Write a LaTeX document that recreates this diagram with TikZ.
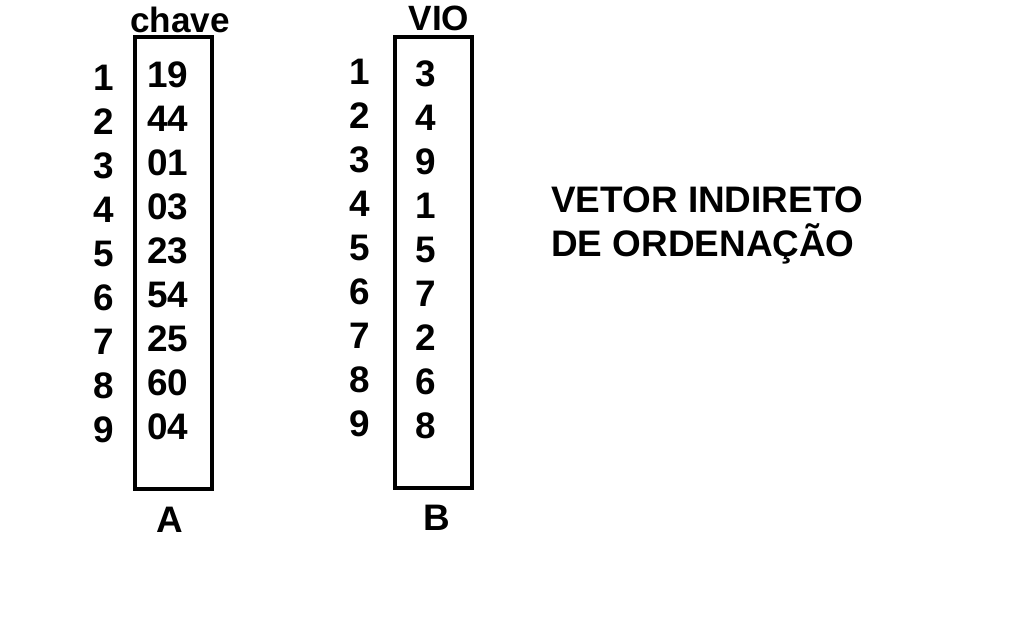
\documentclass[tikz,border=0pt]{standalone}
\usepackage{fontspec}
\setmainfont{Liberation Sans}
\begin{document}
\begin{tikzpicture}[
    x=0.02cm, y=-0.02cm,
    font=\fontsize{21}{25}\selectfont\bfseries,
    vetor/.style={draw, line width=2.3pt, inner sep=0pt, minimum width=1.54cm, minimum height=9.04cm},
    cell/.style={inner sep=0pt, anchor=center},
    titulo/.style={cell, font=\fontsize{20}{24}\selectfont\bfseries},
    rotulo/.style={inner sep=0pt, anchor=west}
]
\useasboundingbox (0,0) rectangle (1018,623);
% vetor A (chave)
\node[vetor] (boxA) at (173.5, 263) {};
\node[titulo] (headA) at (180, 20) {chave};
\node[cell] (nameA) at (170, 520) {A};
\foreach \v [count=\i] in {19,44,01,03,23,54,25,60,04} {
  \node[cell] (idxA\i) at (104, 78+44*\i-44) {\i};
  \node[cell] (valA\i) at (168, 75+44*\i-44) {\v};
}
% vetor B (VIO)
\node[vetor] (boxB) at (433.5, 262.5) {};
\node[titulo] (headB) at (439, 18) {VIO};
\node[cell] (nameB) at (437, 518) {B};
\foreach \v [count=\i] in {3,4,9,1,5,7,2,6,8} {
  \node[cell] (idxB\i) at (360, 72+44*\i-44) {\i};
  \node[cell] (valB\i) at (426, 74+44*\i-44) {\v};
}
% legenda
\node[rotulo] (leg1) at (551, 200) {VETOR INDIRETO};
\node[rotulo] (leg2) at (551, 244) {DE ORDENAÇÃO};
\end{tikzpicture}
\end{document}
